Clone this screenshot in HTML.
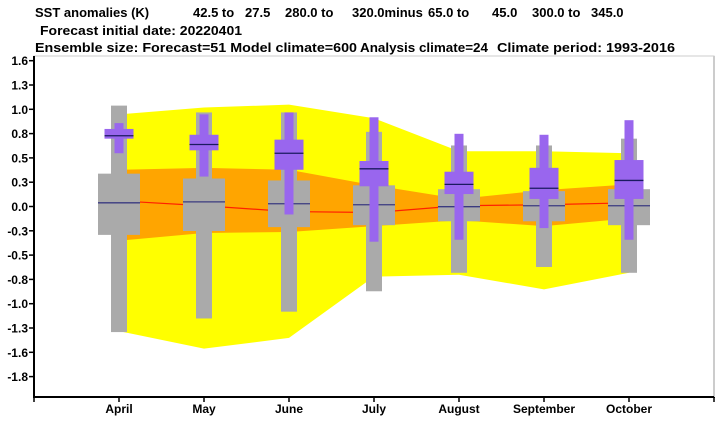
<!DOCTYPE html>
<html><head><meta charset="utf-8"><style>
html,body{margin:0;padding:0;background:#fff;width:720px;height:421px;overflow:hidden}
svg{display:block;font-family:"Liberation Sans",Arial,sans-serif;font-weight:bold}
</style></head><body>
<svg id="chart" width="720" height="421" viewBox="0 0 720 421" xmlns="http://www.w3.org/2000/svg">
<g font-size="13" fill="#000">
<text x="35" y="17">SST anomalies (K)</text>
<text x="193" y="17">42.5 to</text>
<text x="245" y="17">27.5</text>
<text x="285" y="17">280.0 to</text>
<text x="352" y="17">320.0minus</text>
<text x="428" y="17">65.0 to</text>
<text x="492" y="17">45.0</text>
<text x="532" y="17">300.0 to</text>
<text x="591" y="17">345.0</text>
<text x="40" y="35" textLength="202" lengthAdjust="spacingAndGlyphs">Forecast initial date: 20220401</text>
<text x="35" y="52" textLength="322" lengthAdjust="spacingAndGlyphs">Ensemble size: Forecast=51 Model climate=600</text>
<text x="360" y="52" textLength="128" lengthAdjust="spacingAndGlyphs">Analysis climate=24</text>
<text x="497" y="52" textLength="178" lengthAdjust="spacingAndGlyphs">Climate period: 1993-2016</text>
</g>
<g id="plot"></g>
</svg>
<script>
const months=["April","May","June","July","August","September","October"];
const yTickLabels=["1.6","1.3","1.0","0.8","0.5","0.3","0.0","-0.3","-0.5","-0.8","-1.0","-1.3","-1.6","-1.8"];
const yTickValues=[1.5,1.25,1.0,0.75,0.5,0.25,0,-0.25,-0.5,-0.75,-1.0,-1.25,-1.5,-1.75];
// climate (gray) box stats: max, q3, median, q1, min
const climMax=[1.04,0.97,0.97,0.77,0.63,0.63,0.70];
const climQ3=[0.34,0.29,0.27,0.22,0.18,0.16,0.18];
const climMed=[0.04,0.05,0.03,0.02,0.00,0.01,0.01];
const climQ1=[-0.29,-0.25,-0.21,-0.19,-0.15,-0.15,-0.19];
const climMin=[-1.29,-1.15,-1.08,-0.87,-0.68,-0.62,-0.68];
// forecast (purple) box stats
const fcMax=[0.86,0.95,0.97,0.92,0.75,0.74,0.89];
const fcQ3=[0.80,0.74,0.69,0.47,0.36,0.40,0.48];
const fcMed=[0.73,0.64,0.55,0.39,0.23,0.19,0.27];
const fcQ1=[0.70,0.58,0.38,0.21,0.13,0.08,0.08];
const fcMin=[0.55,0.31,-0.08,-0.36,-0.34,-0.22,-0.34];
// analysis bands
const outerUpper=[0.95,1.02,1.05,0.91,0.57,0.57,0.55];
const outerLower=[-1.28,-1.46,-1.35,-0.72,-0.70,-0.85,-0.68];
const innerUpper=[0.38,0.40,0.38,0.22,0.08,0.17,0.23];
const innerLower=[-0.35,-0.27,-0.26,-0.20,-0.14,-0.20,-0.12];
const analysisMean=[0.06,0.01,-0.05,-0.06,0.01,0.02,0.04];

const X0=34,X1=714,Y0=56,Y1=397;
const xs=i=>119+i*85;
const ys=v=>206.7-v*97.2;
const NS="http://www.w3.org/2000/svg";
const plot=document.getElementById("plot");
function mk(tag,attrs,parent){const e=document.createElementNS(NS,tag);for(const k in attrs)e.setAttribute(k,attrs[k]);(parent||plot).appendChild(e);return e;}

const frame=mk("rect",{x:X0,y:Y0,width:X1-X0,height:Y1-Y0,fill:"#fff",stroke:"#ccc","stroke-width":1});



function band(up,lo,fill,name){
  let pts=up.map((v,i)=>xs(i)+","+ys(v));
  for(let i=lo.length-1;i>=0;i--)pts.push(xs(i)+","+ys(lo[i]));
  const p=mk("polygon",{points:pts.join(" "),fill:fill});
  
  
}
band(outerUpper,outerLower,"#ffff00","analysis-outer-band");
band(innerUpper,innerLower,"#ffa500","analysis-inner-band");
const ml=mk("polyline",{points:analysisMean.map((v,i)=>xs(i)+","+ys(v)).join(" "),fill:"none",stroke:"#ff2000","stroke-width":1.2});



function box(i,mx,q3,md,q1,mn,wW,wN,fill,med,name){
  const g=mk("g",{});
  
  
  const x=xs(i);
  mk("rect",{x:x-wN,y:ys(mx),width:2*wN,height:ys(mn)-ys(mx),fill:fill},g);
  mk("rect",{x:x-wW,y:ys(q3),width:2*wW,height:ys(q1)-ys(q3),fill:fill},g);
  mk("line",{x1:x-wW,x2:x+wW,y1:ys(md),y2:ys(md),stroke:med,"stroke-width":1.3},g);
}
months.forEach((m,i)=>{
  box(i,climMax[i],climQ3[i],climMed[i],climQ1[i],climMin[i],21,8,"#aaaaaa","#3a3a80","climate-box-"+m.toLowerCase());
});
months.forEach((m,i)=>{
  box(i,fcMax[i],fcQ3[i],fcMed[i],fcQ1[i],fcMin[i],14.5,4.5,"#9966ee","#1a1a60","forecast-box-"+m.toLowerCase());
});

const ax=mk("path",{d:`M${X0},${Y0} V${Y1} H${X1} V${Y0}`,fill:"none",stroke:"#000","stroke-width":2});


const rb=mk("line",{x1:X1,x2:X1,y1:Y0,y2:Y1,stroke:"#ccc","stroke-width":2});


mk("line",{x1:X0,x2:X1,y1:Y1,y2:Y1,stroke:"#000","stroke-width":2});
mk("line",{x1:X0,x2:X0,y1:Y0,y2:Y1,stroke:"#000","stroke-width":2});

yTickValues.forEach((v,i)=>{
  const y=ys(v)+(i<6? (v-1.5+0)*0:0);
  const yy=60.7+i*24.3;
  const t=mk("line",{x1:29,x2:34,y1:yy,y2:yy,stroke:"#000","stroke-width":1.5});
  
  
  const l=mk("text",{x:28,y:yy+4.5,"text-anchor":"end","font-size":12});
  
  
  l.textContent=yTickLabels[i];
});
[X0,X1].forEach(x=>mk("line",{x1:x,x2:x,y1:Y1,y2:Y1+5,stroke:"#000","stroke-width":1.5}));
months.forEach((m,i)=>{
  const t=mk("line",{x1:xs(i),x2:xs(i),y1:Y1,y2:Y1+5,stroke:"#000","stroke-width":1.5});
  
  
  const l=mk("text",{x:xs(i),y:413,"text-anchor":"middle","font-size":12});
  
  
  l.textContent=m;
});
</script>
</body></html>
